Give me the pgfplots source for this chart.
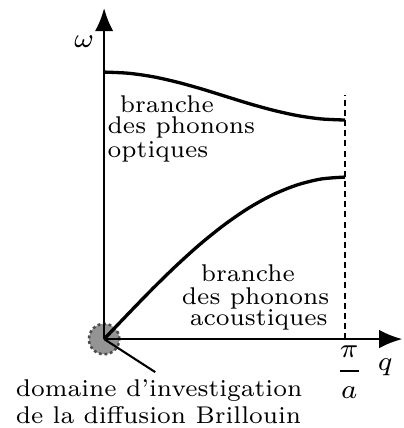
\documentclass[border=0pt]{standalone}
\usepackage{pgfplots}
\pgfplotsset{compat=1.18}
\usetikzlibrary{arrows.meta}
\begin{document}
\begin{tikzpicture}[
  lbl/.style={font=\fontsize{7}{8}\selectfont, scale=0.75, transform shape, inner sep=0pt},
  mth/.style={font=\fontsize{7}{8}\selectfont, scale=0.84, transform shape, inner sep=0pt},
]
\begin{axis}[
  x=52.3pt, y=35.15pt,
  xmin=0, xmax=1.237, ymin=0, ymax=2.043,
  axis lines=middle,
  axis line style={line width=0.45pt, -{Latex[length=5pt,width=4pt]}},
  xtick=\empty, ytick=\empty,
  axis on top,
  clip=false,
]
% marges de la figure
\path (axis cs:-0.432,-0.549) (axis cs:1.237,2.093);
% zone Brillouin
\draw[fill=black!42, draw=black!70, line width=0.55pt, dash pattern=on 0.6pt off 0.6pt]
  (axis cs:0,0) circle[radius=3.3pt];
\draw[line width=0.45pt] (axis cs:0,0) -- (axis cs:0.212,-0.204);
% branche optique
\addplot[line width=0.72pt, smooth] coordinates {
  (0,1.648) (0.1,1.641) (0.2,1.620) (0.3,1.587) (0.4,1.546) (0.5,1.500)
  (0.6,1.454) (0.7,1.413) (0.8,1.380) (0.9,1.359) (1,1.352)
};
% branche acoustique
\addplot[line width=0.72pt, smooth] coordinates {
  (0,0) (0.1,0.156) (0.2,0.309) (0.3,0.454) (0.4,0.588) (0.5,0.707)
  (0.6,0.809) (0.7,0.891) (0.8,0.951) (0.9,0.988) (1,1)
};
\draw[line width=0.35pt, dash pattern=on 1.3pt off 0.9pt] (axis cs:1,0) -- (axis cs:1,1.506);
% textes
\node[mth] at (axis cs:-0.083,1.833) {$\omega$};
\node[mth] at (axis cs:1.166,-0.173) {$q$};
\node[mth] at (axis cs:1.017,-0.205) {$\displaystyle\frac{\pi}{a}$};
\node[lbl, anchor=base west] at (axis cs:0.062,1.401) {branche};
\node[lbl, anchor=base west] at (axis cs:0.012,1.272) {des phonons};
\node[lbl, anchor=base west] at (axis cs:0.012,1.123) {optiques};
\node[lbl, anchor=base west] at (axis cs:0.398,0.358) {branche};
\node[lbl, anchor=base west] at (axis cs:0.320,0.216) {des phonons};
\node[lbl, anchor=base west] at (axis cs:0.353,0.086) {acoustiques};
\node[lbl, anchor=base west] at (axis cs:-0.369,-0.352) {domaine d'investigation};
\node[lbl, anchor=base west] at (axis cs:-0.369,-0.519) {de la diffusion Brillouin};
\end{axis}
\end{tikzpicture}
\end{document}
